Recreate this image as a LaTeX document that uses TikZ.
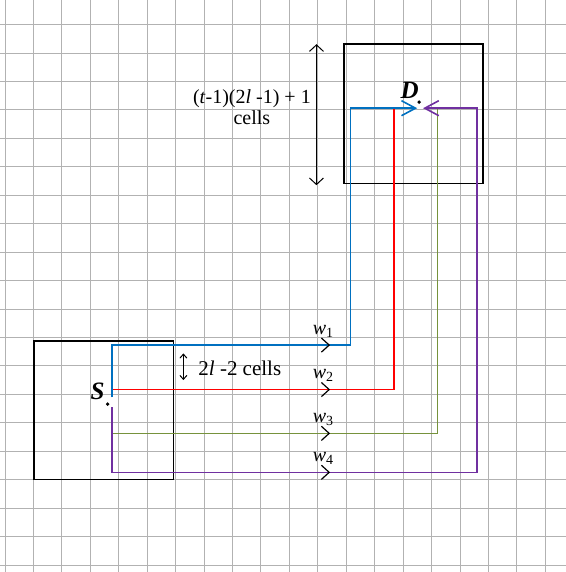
\documentclass[tikz,border=0pt]{standalone}
\usepackage{fontspec}
\setmainfont{Liberation Serif}
\usepackage{xcolor}
\usepackage{tikz}
\usetikzlibrary{arrows.meta}

\definecolor{wblue}{HTML}{0070C0}
\definecolor{wred}{HTML}{FF0000}
\definecolor{wgreen}{HTML}{76923C}
\definecolor{wpurple}{HTML}{7030A0}

\begin{document}
\begin{tikzpicture}[
  x=14.13pt, y=14.13pt,
  cellgrid/.style={draw=black!30, line width=1pt},
  area/.style={draw=black, line width=1.5pt},
  route/.style={line width=1.6pt},
  tip/.style={-{Straight Barb[length=14pt, width=15pt]}},
  chev/.style={draw=black, line width=1.2pt},
  span/.style={{Straight Barb[length=6.5pt, width=14pt]}-{Straight Barb[length=6.5pt, width=14pt]},
               line width=1pt},
  smallspan/.style={{Straight Barb[length=4pt, width=7pt]}-{Straight Barb[length=4pt, width=7pt]},
                    line width=1pt},
  dot/.style={circle, fill=black, inner sep=0pt, minimum size=3.8pt},
  lbl/.style={font=\fontsize{20}{21.5}\selectfont, align=center, inner sep=0pt},
  wlbl/.style={font=\fontsize{20}{20}\selectfont, inner sep=0pt, anchor=base},
  ptlbl/.style={font=\fontsize{25}{25}\selectfont\bfseries\itshape, inner sep=0pt}
]

\useasboundingbox (-0.354,-0.495) rectangle (39.70,40.0);
\draw[cellgrid] (-0.354,-0.495) grid (39.70,40.0);

% source and destination areas
\draw[area] (2.05,6.07) rectangle (11.94,15.87);
\draw[area] (24.01,27.0) rectangle (33.85,36.9);

\node[dot] (S) at (7.27,11.39) {};
\node[ptlbl] (Slbl) at (6.55,12.27) {S};
\node[dot] (D) at (29.32,32.77) {};
\node[ptlbl] (Dlbl) at (28.64,33.58) {D};

\coordinate (sr) at (7.57,12.42);
\coordinate (sb) at (7.57,11.87);
\coordinate (sg) at (7.57,9.32);
\coordinate (sp) at (7.57,11.18);
\coordinate (rtop) at (27.55,32.34);
\coordinate (bturn) at (24.47,15.57);
\coordinate (gtop) at (30.62,32.34);
\coordinate (pturn) at (33.40,6.56);
\coordinate (db) at (29.18,32.34);
\coordinate (dp) at (29.60,32.34);

\draw[route, draw=wred] (sr) -- (rtop |- sr) -- (rtop);
\draw[route, draw=wblue, tip] (sb) |- (bturn) |- (db);
\draw[route, draw=wgreen] (sg) -- (gtop |- sg) -- (gtop);
\draw[route, draw=wpurple, tip] (sp) |- (pturn) |- (dp);

\coordinate (m1) at (22.95,15.57);
\coordinate (m2) at (22.95,12.42);
\coordinate (m3) at (22.95,9.32);
\coordinate (m4) at (22.95,6.56);
\draw[chev] (m1) ++(-0.55,0.5) -- (m1) -- ++(-0.55,-0.5);
\draw[chev] (m2) ++(-0.55,0.5) -- (m2) -- ++(-0.55,-0.5);
\draw[chev] (m3) ++(-0.55,0.5) -- (m3) -- ++(-0.55,-0.5);
\draw[chev] (m4) ++(-0.55,0.5) -- (m4) -- ++(-0.55,-0.5);

\node[wlbl] (w1) at (22.53,16.34) {\textit{w}\textsubscript{1}};
\node[wlbl] (w2) at (22.53,13.19) {\textit{w}\textsubscript{2}};
\node[wlbl] (w3) at (22.53,10.09) {\textit{w}\textsubscript{3}};
\node[wlbl] (w4) at (22.53,7.33) {\textit{w}\textsubscript{4}};

% cell counts
\coordinate (htop) at (22.05,36.87);
\coordinate (hbot) at (22.05,26.89);
\draw[span] (htop) -- (hbot);
\node[lbl] (hlbl) at (17.48,32.41) {(\textit{t}-1)(2\textit{l} -1) + 1\\cells};

\coordinate (gaptop) at (12.63,14.98);
\coordinate (gapbot) at (12.63,13.09);
\draw[smallspan] (gaptop) -- (gapbot);
\node[lbl, anchor=base west, font=\fontsize{21}{21}\selectfont] (gaplbl) at (13.68,13.40) {2\textit{l} -2 cells};
\end{tikzpicture}
\end{document}
